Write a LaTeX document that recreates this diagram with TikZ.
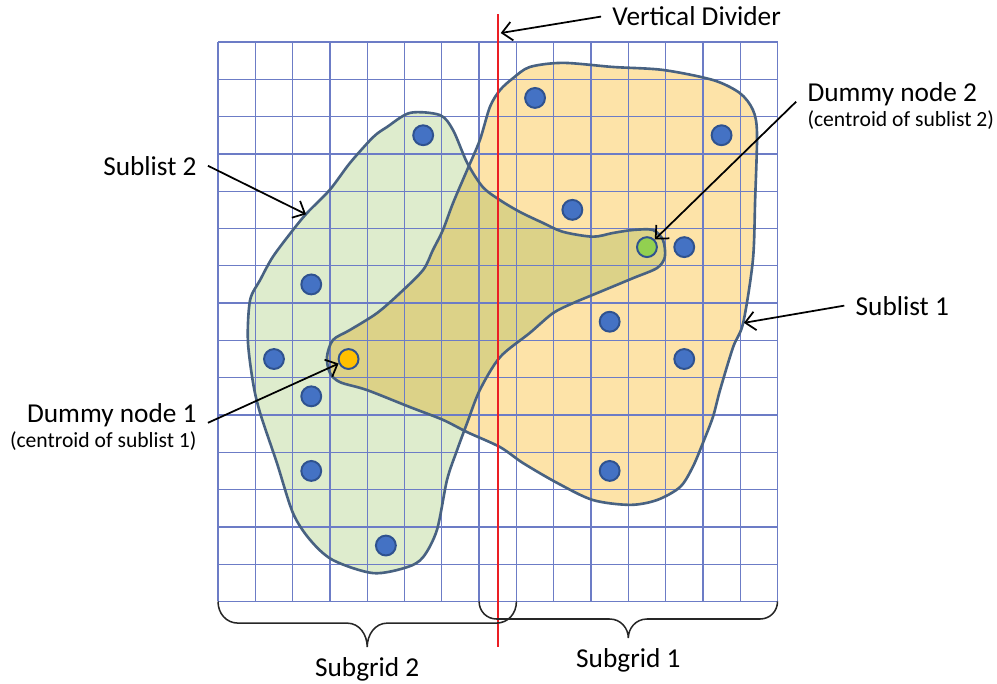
\documentclass[tikz,border=0pt]{standalone}
\usepackage{fontspec}
\setmainfont{Carlito}
\usetikzlibrary{arrows.meta,positioning,calc}

\definecolor{gridblue}{RGB}{108,124,198}
\definecolor{blobline}{RGB}{72,98,130}
\definecolor{subtwofill}{RGB}{222,236,205}
\definecolor{subonefill}{RGB}{253,227,168}
\definecolor{overlapfill}{RGB}{220,210,136}
\definecolor{dotblue}{RGB}{68,114,196}
\definecolor{dotedge}{RGB}{47,82,143}
\definecolor{dotgreen}{RGB}{146,208,80}
\definecolor{dotorange}{RGB}{255,192,0}
\definecolor{divred}{RGB}{235,30,36}

% outlines of the two sublists (grid units)
\newcommand\sublisttwo{plot[smooth cycle] coordinates {(5.15,13.10) (5.95,13.04) (6.30,12.64) (6.68,11.76) (7.10,11.11) (7.56,10.76) (8.10,10.44) (8.71,10.15) (9.25,9.91) (10.05,9.78) (10.59,9.88) (11.13,9.96) (11.66,9.96) (11.93,9.69) (11.98,9.24) (11.77,8.94) (11.13,8.67) (10.24,8.30) (9.52,8.00) (8.98,7.73) (8.36,7.20) (7.56,6.55) (7.02,5.67) (6.68,4.79) (6.41,4.06) (6.14,3.26) (5.87,1.92) (5.50,1.19) (5.07,0.92) (4.16,0.76) (3.08,1.11) (2.47,1.65) (2.01,2.37) (1.58,3.71) (1.13,5.05) (0.94,5.86) (0.80,7.01) (0.86,8.08) (1.13,8.62) (1.47,9.24) (2.01,9.96) (2.39,10.42) (3.00,11.04) (3.54,11.76) (4.16,12.45) (4.53,12.72)}}
\newcommand\sublistone{plot[smooth cycle] coordinates {(7.02,12.37) (7.29,13.26) (7.56,13.71) (7.91,14.03) (8.36,14.33) (9.25,14.44) (10.59,14.33) (11.93,14.25) (13.27,13.98) (13.99,13.63) (14.34,13.18) (14.45,12.56) (14.40,10.76) (14.34,9.15) (14.08,7.47) (13.81,6.82) (13.46,5.67) (13.27,4.95) (13.00,4.25) (12.73,3.61) (12.39,3.07) (11.77,2.72) (11.05,2.59) (10.05,2.72) (9.09,3.18) (8.18,3.71) (7.56,4.14) (6.68,4.54) (6.03,4.87) (5.15,5.21) (3.99,5.67) (3.27,5.88) (3.00,6.13) (2.92,6.55) (3.08,7.01) (3.54,7.28) (4.26,7.73) (4.88,8.27) (5.50,8.89) (5.76,9.42) (6.03,9.96) (6.30,10.68) (6.68,11.57)}}

\begin{document}
\begin{tikzpicture}[x=0.6cm,y=0.6cm,font=\fontsize{12.5}{15}\selectfont,
  gridline/.style={draw=gridblue,line width=0.6pt,step=0.6cm},
  blob/.style={draw=blobline,line width=1.2pt},
  pt/.style={circle,draw=dotedge,line width=0.9pt,fill=dotblue,minimum size=0.32cm,inner sep=0pt},
  lbl/.style={inner xsep=5pt,inner ysep=1pt},
  sublbl/.style={inner xsep=5pt,inner ysep=1pt,font=\fontsize{9.9}{12}\selectfont},
  arr/.style={-{Straight Barb[length=1.6mm,width=3mm]},line width=0.8pt},
  brc/.style={draw=black!85,line width=0.7pt}]
\useasboundingbox (-5.845,-2.212) rectangle (20.885,16.126);
% fills, overlap drawn darker
\fill[subtwofill] \sublisttwo;
\fill[subonefill] \sublistone;
\begin{scope}
  \clip \sublisttwo;
  \fill[overlapfill] \sublistone;
\end{scope}
\draw[gridline] (0,0) grid (15,15);
\draw[blob] \sublisttwo;
\draw[blob] \sublistone;
\draw[divred,line width=1pt] (7.5,15.75) -- (7.5,-1.22);
% sublist 2 points
\node[pt] (s2a) at (5.5,12.5) {};
\node[pt] (s2b) at (2.5,8.5) {};
\node[pt] (s2c) at (1.5,6.5) {};
\node[pt] (s2d) at (2.5,5.5) {};
\node[pt] (s2e) at (2.5,3.5) {};
\node[pt] (s2f) at (4.5,1.5) {};
% sublist 1 points
\node[pt] (s1a) at (8.5,13.5) {};
\node[pt] (s1b) at (13.5,12.5) {};
\node[pt] (s1c) at (9.5,10.5) {};
\node[pt] (s1d) at (12.5,9.5) {};
\node[pt] (s1e) at (10.5,7.5) {};
\node[pt] (s1f) at (12.5,6.5) {};
\node[pt] (s1g) at (10.5,3.5) {};
% dummy nodes
\node[pt,fill=dotorange] (dmy1) at (3.5,6.5) {};
\node[pt,fill=dotgreen] (dmy2) at (11.5,9.5) {};
% braces
\draw[brc] (0,0) .. controls (0,-0.32) and (0.22,-0.58) .. (0.54,-0.58) -- (3.46,-0.58)
  .. controls (3.8,-0.58) and (4,-0.9) .. (4,-1.22) .. controls (4,-0.9) and (4.2,-0.58) .. (4.54,-0.58)
  -- (7.46,-0.58) .. controls (7.78,-0.58) and (8,-0.32) .. (8,0);
\draw[brc] (7,0) .. controls (7,-0.26) and (7.2,-0.47) .. (7.47,-0.47) -- (10.5,-0.47)
  .. controls (10.8,-0.47) and (11,-0.72) .. (11,-0.98) .. controls (11,-0.72) and (11.2,-0.47) .. (11.5,-0.47)
  -- (14.53,-0.47) .. controls (14.8,-0.47) and (15,-0.26) .. (15,0);
\node[lbl,anchor=base] (sg2) at (4,-2.02) {Subgrid 2};
\node[lbl,anchor=base] (sg1) at (11,-1.76) {Subgrid 1};
% labels
\node[lbl,anchor=base west] (vdiv) at (10.27,15.43) {Vertical Divider};
\coordinate (vdpt) at (7.58,15.24);
\draw[arr] (vdiv.west) -- (vdpt);
\node[lbl,anchor=base west] (dn2) at (15.50,13.40) {Dummy node 2};
\node[sublbl,anchor=base west] (dn2c) at ($(dn2.base west)+(0,-0.67)$) {(centroid of sublist 2)};
\draw[arr] (dn2.base west) -- (dmy2);
\node[lbl,anchor=base east] (dn1) at (-0.27,4.79) {Dummy node 1};
\node[sublbl,anchor=base east] (dn1c) at ($(dn1.base east)+(0,-0.65)$) {(centroid of sublist 1)};
\draw[arr] (dn1.base east) -- (dmy1);
\node[lbl,anchor=base east] (sl2) at (-0.27,11.43) {Sublist 2};
\coordinate (sl2pt) at (2.36,10.38);
\draw[arr] (sl2.east) -- (sl2pt);
\node[lbl,anchor=base west] (sl1) at (16.79,7.68) {Sublist 1};
\coordinate (sl1pt) at (14.1,7.47);
\draw[arr] (sl1.west) -- (sl1pt);
\end{tikzpicture}
\end{document}
